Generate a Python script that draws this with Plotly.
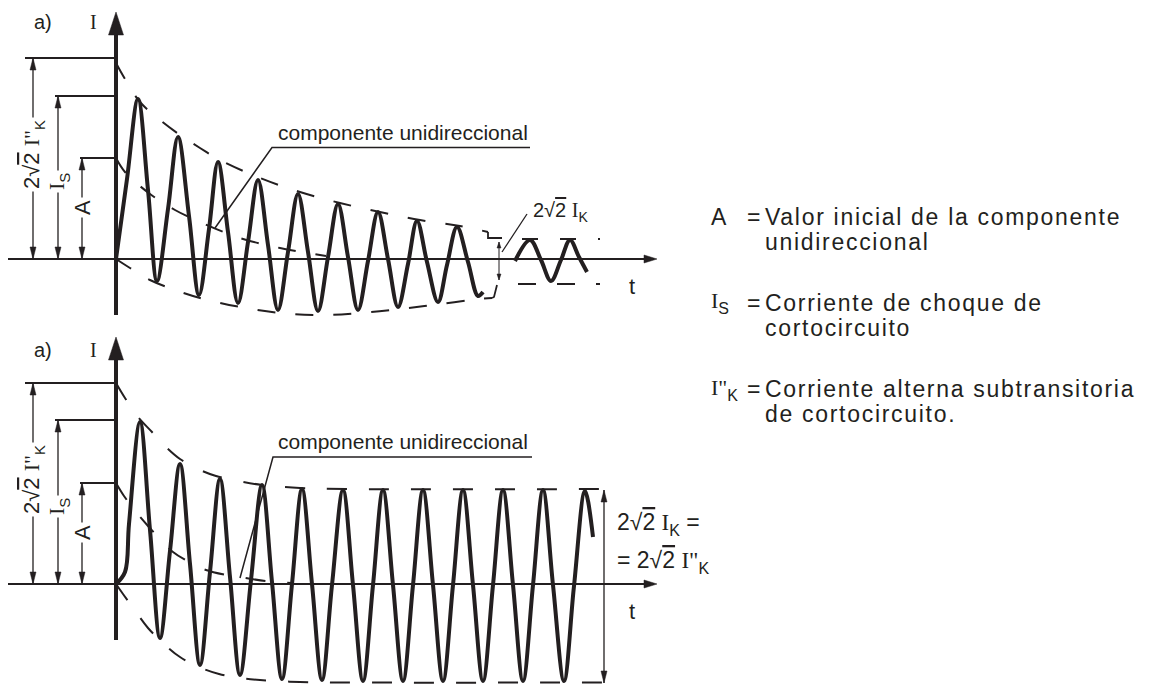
import plotly.graph_objects as go

# ------------------------------------------------------------------
# DATA (t, I), relative to each panel's origin
# ------------------------------------------------------------------
# Top panel: decaying short-circuit current (extrema and edge mid-points)
TOP_WAVE_T = [0, 11, 22, 32, 41, 52, 62, 73, 83, 93, 102, 112, 122, 132, 142, 152, 162, 172, 182,
              192, 202, 212, 222, 232, 242, 252, 262, 272, 282, 292, 301, 311, 322, 331, 341, 352, 362, 367]
TOP_WAVE_I = [0, 80, 160, 69, -22, 50, 122, 43, -36, 30, 97, 27, -44, 17, 79, 14, -51, 7, 65,
              7, -52, 2, 55, 2, -51, -2, 47, 0, -48, -5, 38, -3, -43, -6, 32, -3, -37, -33]
TOP_UPPER_T = [0, 9, 24, 44, 64, 84, 104, 144, 184, 224, 264, 304, 344, 372]
TOP_UPPER_I = [196, 180, 157, 139, 124, 111, 99, 81, 67, 56, 47, 39, 33, 27]
TOP_LOWER_T = [0, 14, 34, 59, 84, 124, 164, 204, 244, 284, 324, 364, 376]
TOP_LOWER_I = [0, -9, -21, -31, -39, -48, -54, -56, -54, -50, -45, -40, -39]
TOP_DC_T = [0, 9, 34, 59, 84, 124, 164, 210]
TOP_DC_I = [101, 87, 65, 49, 37, 21, 11, 3]
TOP_LEVELS = [201, 163, 101]          # 2√2 I"K, Is, A

# steady state detail (top right)
STEADY_T = [399, 414, 425, 435, 445, 454, 463, 471]
STEADY_I = [-2, 19, -1, -22, -1, 19, 2, -13]
STEADY_UP_LINK_T = [372, 372, 386]
STEADY_UP_LINK_I = [27, 21, 21]
STEADY_UP_T = [406, 484]
STEADY_UP_I = [20, 20]
STEADY_LO_LINK_T = [376, 378, 381]
STEADY_LO_LINK_I = [-39, -38, -26]
STEADY_LO_T = [402, 484]
STEADY_LO_I = [-25, -25]
STEADY_DIM_T = 383
STEADY_DIM_I = [17, -21]

# Bottom panel: current without AC decay
BOT_WAVE_T = [0, 9, 13, 24, 34, 44, 54, 64, 74, 84, 94, 104, 114, 124, 135, 146, 156, 166, 176, 186,
              196, 206, 216, 227, 237, 247, 257, 267, 277, 287, 297, 307, 317, 327, 337, 347, 357, 367,
              377, 387, 397, 407, 417, 427, 437, 448, 458, 469, 477]
BOT_WAVE_I = [0, 12, 60, 162, 54, -54, 33, 120, 20, -81, 12, 105, 7, -91, 4, 99, 2, -95, 0, 95,
              0, -96, -1, 94, -1, -97, -1, 94, -1, -97, -1, 94, -1, -97, -1, 94, -1, -97,
              -1, 94, -1, -97, -1, 94, -1, -97, -2, 93, 47]
BOT_UPPER_T = [0, 9, 22, 36, 50, 64, 82, 100, 122, 146, 184, 230, 499]
BOT_UPPER_I = [201, 186, 167, 152, 137, 125, 115, 108, 103, 99, 96, 95, 95]
BOT_LOWER_T = [0, 7, 20, 32, 48, 64, 83, 103, 124, 144, 184, 230, 499]
BOT_LOWER_I = [0, -10, -28, -44, -60, -73, -83, -90, -94, -96, -98, -98.5, -98.5]
BOT_DC_T = [0, 8, 20, 32, 45, 57, 73, 90, 110, 129, 150, 175]
BOT_DC_I = [101, 88, 72, 58, 44, 32, 22, 14, 9, 6, 3, 1]
BOT_LEVELS = [201, 164, 101]
BOT_DIM_T = 488
BOT_DIM_I = [94, -99]

# Legend texts
LEGEND_LINE1 = ['Valor inicial de la componente', 'Corriente de choque de', 'Corriente alterna subtransitoria']
LEGEND_LINE2 = ['unidireccional', 'cortocircuito', 'de cortocircuito.']

# ------------------------------------------------------------------
# LAYOUT / STYLE
# ------------------------------------------------------------------
INK = '#231f20'
SANS = 'Liberation Sans, Arial, Helvetica, sans-serif'
SERIF = 'Liberation Serif, Times New Roman, serif'
PAGE_W, PAGE_H = 1157, 684
BODY = 8                                   # default page margin around the plot div
W, H = PAGE_W - BODY, PAGE_H - BODY
SPLIT_PX = 330                              # page row separating the two panels
TOP_ORIGIN_Y, BOT_ORIGIN_Y, ORIGIN_X = 259, 584, 116

REF_START = [-91, -61, -36]        # left ends of reference lines
DIM_T = [-83, -58, -34]            # x of dimension arrows
DIM_LABEL_I = [104, 77, 51]
AXIS_LEFT, AXIS_TIP_T = -108, 541
AXIS_BOTTOM, AXIS_TIP_I = -56, 247
LEG_SIZE = 23


def rad2(sz):
    return '2√<span style="text-decoration:overline;font-size:%dpx">2</span>' % sz


def serif(txt, sz):
    return '<span style="font-family:Liberation Serif;font-size:%dpx">%s</span>' % (sz, txt)


def sub(txt, sz):
    return '<span style="font-size:%dpx;baseline-shift:-%dpx">%s</span>' % (round(sz * 0.7), round(sz * 0.25), txt)


def dim_labels(sz):
    return [rad2(sz) + ' ' + serif('I"', sz) + sub('K', sz), serif('I', sz) + sub('S', sz), 'A']


fig = go.Figure()


def axes_of(p):
    return ('x', 'y') if p == 1 else ('x2', 'y2')


def line(p, t, i, width, dash=None, shape='linear', smoothing=1.0):
    xa, ya = axes_of(p)
    ln = dict(color=INK, width=width, shape=shape)
    if shape == 'spline':
        ln['smoothing'] = smoothing
    if dash:
        ln['dash'] = dash
    fig.add_trace(go.Scatter(x=t, y=i, mode='lines', line=ln, xaxis=xa, yaxis=ya,
                             hoverinfo='skip', showlegend=False))


def heads(p, specs):
    xs, ys = [], []
    for (tt, ii, dt, di, L, Wd) in specs:
        bt, bi = tt - L * dt, ii - L * di
        pt, pi = -di, dt
        xs += [tt, bt + Wd / 2 * pt, bt - Wd / 2 * pt, tt, None]
        ys += [ii, bi + Wd / 2 * pi, bi - Wd / 2 * pi, ii, None]
    xa, ya = axes_of(p)
    fig.add_trace(go.Scatter(x=xs, y=ys, mode='lines', fill='toself', fillcolor=INK,
                             line=dict(color=INK, width=0.5), xaxis=xa, yaxis=ya,
                             hoverinfo='skip', showlegend=False))


annotations = []


def ann(p, text, t, i, size, font=SANS, xanchor='center', angle=0, bg=None):
    xa, ya = axes_of(p)
    a = dict(text=text, x=t, y=i, xref=xa, yref=ya, showarrow=False, xanchor=xanchor,
             yanchor='middle', textangle=angle, font=dict(family=font, size=size, color=INK))
    if bg:
        a['bgcolor'] = bg
        a['borderpad'] = 2
    annotations.append(a)


def panel(p, levels, wave_t, wave_i, up_t, up_i, lo_t, lo_i, dc_t, dc_i, dash, leader, text_i, label_i):
    hs = []
    labels = dim_labels(22)
    for k in range(3):
        line(p, [REF_START[k], 0], [levels[k], levels[k]], 1.8)
        line(p, [DIM_T[k], DIM_T[k]], [levels[k], 0], 1.3)
        hs.append((DIM_T[k], levels[k], 0, 1, 12, 6))
        hs.append((DIM_T[k], 0, 0, -1, 12, 6))
        ann(p, labels[k], DIM_T[k], DIM_LABEL_I[k], 22, angle=-90, bg='white')
    line(p, [AXIS_LEFT, AXIS_TIP_T - 8], [0, 0], 2.2)
    line(p, [0, 0], [AXIS_BOTTOM, AXIS_TIP_I - 15], 4)
    hs.append((0, AXIS_TIP_I, 0, 1, 23, 15))
    hs.append((AXIS_TIP_T, 0, 1, 0, 13, 8))
    heads(p, hs)
    line(p, up_t, up_i, 2, dash=dash, shape='spline')
    line(p, lo_t, lo_i, 2, dash=dash, shape='spline')
    line(p, dc_t, dc_i, 2, dash=dash, shape='spline')
    line(p, wave_t, wave_i, 4, shape='spline', smoothing=1.0)
    line(p, leader[0], leader[1], 1.5)
    ann(p, 'componente unidireccional', 287, text_i, 21)
    ann(p, 'a)', -73, label_i, 20)
    ann(p, 'I', -23, label_i, 20, font=SERIF)
    ann(p, 't', 516, -27, 22)


panel(1, TOP_LEVELS, TOP_WAVE_T, TOP_WAVE_I, TOP_UPPER_T, TOP_UPPER_I, TOP_LOWER_T, TOP_LOWER_I,
      TOP_DC_T, TOP_DC_I, '18px,20px', ([99, 156, 414], [31, 111.5, 111.5]), 127, 237)
panel(2, BOT_LEVELS, BOT_WAVE_T, BOT_WAVE_I, BOT_UPPER_T, BOT_UPPER_I, BOT_LOWER_T, BOT_LOWER_I,
      BOT_DC_T, BOT_DC_I, '20px,22px', ([124, 157, 416], [6, 127, 127]), 143, 234)

# top-right steady state detail
line(1, STEADY_T, STEADY_I, 4, shape='spline')
line(1, STEADY_UP_LINK_T, STEADY_UP_LINK_I, 1.8)
line(1, STEADY_LO_LINK_T, STEADY_LO_LINK_I, 1.8)
line(1, STEADY_UP_T, STEADY_UP_I, 2, dash='16px,22px')
line(1, STEADY_LO_T, STEADY_LO_I, 2, dash='18px,21px')
line(1, [STEADY_DIM_T, STEADY_DIM_T], STEADY_DIM_I, 1.0)
heads(1, [(STEADY_DIM_T, STEADY_DIM_I[0], 0, 1, 6, 4), (STEADY_DIM_T, STEADY_DIM_I[1], 0, -1, 6, 4)])
line(1, [386, 411], [7, 45], 1.3)
ann(1, rad2(20) + ' ' + serif('I', 20) + sub('K', 20), 415, 47, 20, xanchor='left')

# bottom-right dimension
line(2, [BOT_DIM_T, BOT_DIM_T], BOT_DIM_I, 1.3)
heads(2, [(BOT_DIM_T, BOT_DIM_I[0], 0, 1, 12, 6), (BOT_DIM_T, BOT_DIM_I[1], 0, -1, 12, 6)])
ann(2, rad2(23) + ' ' + serif('I', 23) + sub('K', 23) + ' =', 499, 60, 23, xanchor='left')
ann(2, '= ' + rad2(23) + ' ' + serif('I"', 23) + sub('K', 23), 499, 22, 23, xanchor='left')

# legend on the right (page pixel positions -> paper coordinates)
LEGEND_SYMBOLS = ['A', serif('I', 22) + sub('S', 23), serif('I"', 22) + sub('K', 23)]
LEG_X = [709, 745, 763]
ROW1_Y = [217, 303, 389]
ROW2_Y = [242, 328, 414]
SPACED = '<span style="letter-spacing:1.7px;font-size:%dpx">%s</span>'
for k in range(3):
    for text, px, py in [(LEGEND_SYMBOLS[k], LEG_X[0], ROW1_Y[k]), ('=', LEG_X[1], ROW1_Y[k]),
                         (SPACED % (LEG_SIZE, LEGEND_LINE1[k]), LEG_X[2], ROW1_Y[k]),
                         (SPACED % (LEG_SIZE, LEGEND_LINE2[k]), LEG_X[2], ROW2_Y[k])]:
        annotations.append(dict(text=text, x=(px - BODY) / W, y=1 - (py - BODY) / H,
                                xref='paper', yref='paper', showarrow=False,
                                xanchor='left', yanchor='middle',
                                font=dict(family=SANS, size=LEG_SIZE, color=INK)))

# axis ranges so that one data unit = one pixel, origins at the reference positions
x_range = [BODY - ORIGIN_X, PAGE_W - ORIGIN_X]
top_dom = [1 - (SPLIT_PX - BODY) / H, 1]
top_range = [TOP_ORIGIN_Y - SPLIT_PX, TOP_ORIGIN_Y - BODY]
bot_dom = [0, (PAGE_H - SPLIT_PX) / H]
bot_range = [BOT_ORIGIN_Y - PAGE_H, BOT_ORIGIN_Y - SPLIT_PX]

ax_common = dict(visible=False, fixedrange=True)
fig.update_layout(
    width=W, height=H, margin=dict(l=0, r=0, t=0, b=0),
    paper_bgcolor='white', plot_bgcolor='white', showlegend=False,
    xaxis=dict(domain=[0, 1], range=x_range, anchor='y', **ax_common),
    yaxis=dict(domain=top_dom, range=top_range, anchor='x', **ax_common),
    xaxis2=dict(domain=[0, 1], range=x_range, anchor='y2', **ax_common),
    yaxis2=dict(domain=bot_dom, range=bot_range, anchor='x2', **ax_common),
    annotations=annotations,
)

fig.write_html("out.html")
